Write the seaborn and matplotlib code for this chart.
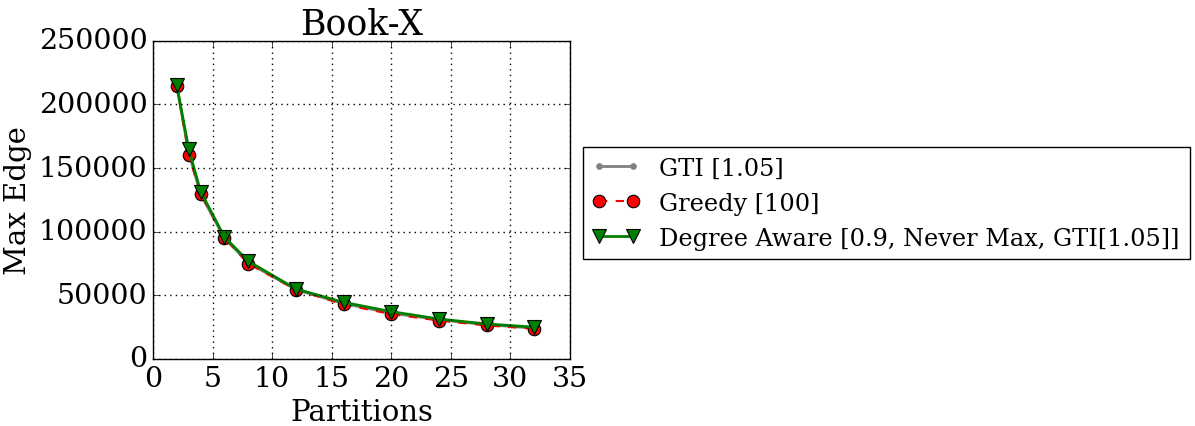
import matplotlib
matplotlib.use('Agg')
import matplotlib.pyplot as plt
import seaborn as sns
import pandas as pd

# datos
partitions = [2, 3, 4, 6, 8, 12, 16, 20, 24, 28, 32]
gti = [214500, 162000, 129500, 95000, 75500, 54500, 43500, 36000, 30800, 27000, 24200]
greedy = [214800, 160500, 129500, 95200, 74800, 54500, 42800, 35200, 30200, 26300, 23700]
degree_aware = [215000, 165000, 131500, 95800, 76800, 55000, 44500, 37200, 31400, 27500, 25000]

labels = ['GTI [1.05]', 'Greedy [100]', 'Degree Aware [0.9, Never Max, GTI[1.05]]']

plt.style.use('classic')
plt.rcParams['font.family'] = ['DejaVu Serif']

df = pd.DataFrame({'Partitions': partitions, 'gti': gti, 'greedy': greedy, 'da': degree_aware})

fig = plt.figure(figsize=(11.95, 4.27), dpi=100, facecolor='white')
ax = fig.add_axes([0.128, 0.157, 0.349, 0.745])

sns.lineplot(data=df, x='Partitions', y='gti', ax=ax, color='gray', marker='.',
             markersize=8, linewidth=2, label=labels[0], markeredgecolor='gray')
sns.lineplot(data=df, x='Partitions', y='greedy', ax=ax, color='red', marker='o',
             markersize=9, linewidth=1.5, linestyle='--', label=labels[1],
             markeredgecolor='black', markeredgewidth=0.8)
sns.lineplot(data=df, x='Partitions', y='da', ax=ax, color='green', marker='v',
             markersize=10, linewidth=2, label=labels[2],
             markeredgecolor='black', markeredgewidth=0.8)

ax.set_xlim(0, 35)
ax.set_ylim(0, 250000)
ax.set_xticks(range(0, 36, 5))
ax.set_yticks(range(0, 250001, 50000))
ax.tick_params(labelsize=20.5)
ax.set_xlabel('Partitions', fontsize=21)
ax.set_ylabel('Max Edge', fontsize=21)
ax.set_title('Book-X', fontsize=25)
ax.grid(True, color='black', linestyle=':', linewidth=1)

ax.legend(loc='center left', bbox_to_anchor=(1.03, 0.49), borderaxespad=0,
          fontsize=17.3, numpoints=2, fancybox=False, framealpha=1)

plt.savefig('out.png', dpi=100, facecolor='white')
plt.close()
